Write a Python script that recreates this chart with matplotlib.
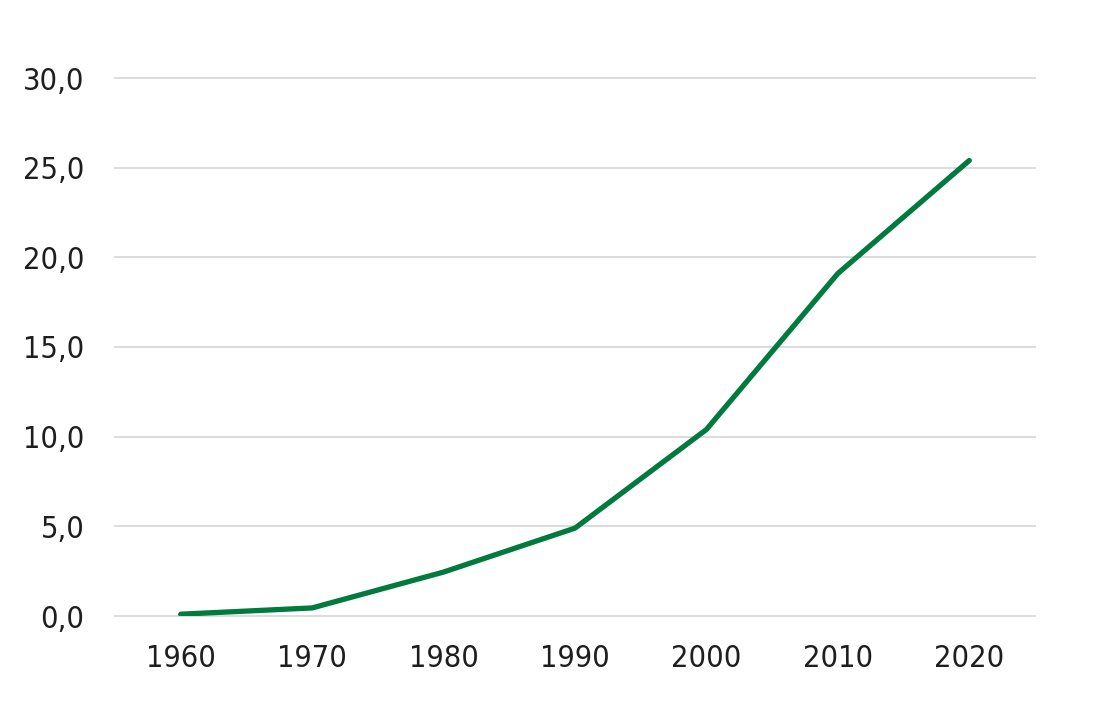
import matplotlib
matplotlib.use("Agg")
from matplotlib import pyplot as plt
from matplotlib.ticker import FuncFormatter

years = ['1960', '1970', '1980', '1990', '2000', '2010', '2020']
values = [0.1, 0.45, 2.45, 4.9, 10.4, 19.1, 25.4]
yticks = [0, 5, 10, 15, 20, 25, 30]

plt.rcParams['font.family'] = ['DejaVu Sans']
plt.rcParams['font.stretch'] = 'condensed'

fig = plt.figure(figsize=(11.10, 7.15), dpi=100)
ax = fig.add_axes([115 / 1110, 1 - 616 / 715, 920 / 1110, 538 / 715])

x = list(range(len(years)))
ax.plot(x, values, color='#007A3D', lw=3.8, solid_capstyle='round', zorder=3)

ax.set_xlim(-0.5, len(years) - 0.5)
ax.set_ylim(0, 30)
ax.set_xticks(x)
ax.set_xticklabels(years)
ax.set_yticks(yticks)
ax.yaxis.set_major_formatter(FuncFormatter(lambda v, p: f"{v:.1f}".replace('.', ',')))
ax.grid(axis='y', color='#d9d9d9', lw=1.3)
for gl in ax.get_ygridlines():
    gl.set_clip_on(False)
ax.set_axisbelow(True)
for s in ax.spines.values():
    s.set_visible(False)
ax.tick_params(length=0, labelsize=22, colors='#1e1e1e')
ax.tick_params(axis='y', pad=22)
ax.tick_params(axis='x', pad=20)

fig.savefig('out.png', dpi=100)
